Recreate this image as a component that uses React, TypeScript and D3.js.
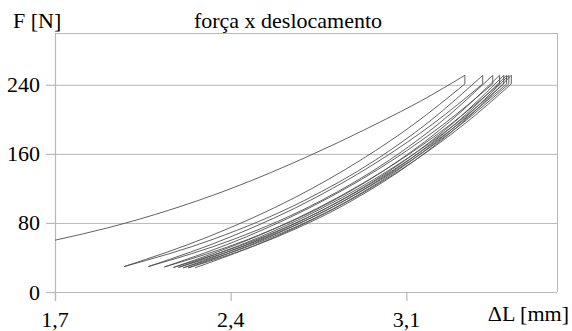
import React from "react";
import * as d3 from "d3";

const title = "força x deslocamento";
const yLabel = "F [N]";
const xLabel = "ΔL [mm]";

const xTicks = [1.7, 2.4, 3.1];
const yTicks = [0, 80, 160, 240];

// peak displacements and forces (top of each cycle) and the force after the short drop
const peakX = [3.333, 3.404, 3.444, 3.471, 3.488, 3.499, 3.508, 3.518];
const peakF = [251, 251, 251, 251, 251, 251, 251, 251];
const dropF = [241, 241, 241, 241, 241, 241, 241, 241];

// first loading curve
const initialLoad: [number, number][] = [
  [1.7, 60], [1.919, 75], [2.385, 118], [2.73, 160], [2.996, 197], [3.156, 221], [3.333, 251],
];

// reloading curves (minimum -> next peak)
const loadCurves: [number, number][][] = [
  [[1.976, 29.5], [2.333, 61.4], [2.69, 105.5], [2.976, 152.7], [3.19, 197.1], [3.404, 251]],
  [[2.072, 29.5], [2.415, 61.4], [2.758, 105.5], [3.032, 152.7], [3.238, 197.1], [3.444, 251]],
  [[2.136, 29], [2.47, 61.0], [2.804, 105.1], [3.071, 152.5], [3.271, 196.9], [3.471, 251]],
  [[2.172, 28.5], [2.501, 60.5], [2.83, 104.8], [3.093, 152.2], [3.291, 196.8], [3.488, 251]],
  [[2.192, 28.5], [2.519, 60.5], [2.846, 104.8], [3.107, 152.2], [3.303, 196.8], [3.499, 251]],
  [[2.211, 28], [2.535, 60.1], [2.86, 104.5], [3.119, 152.0], [3.314, 196.7], [3.508, 251]],
  [[2.231, 28], [2.553, 60.1], [2.875, 104.5], [3.132, 152.0], [3.325, 196.7], [3.518, 251]],
];

// unloading curves (listed from the minimum up to the dropped peak)
const unloadCurves: [number, number][][] = [
  [[1.976, 29.5], [2.315, 64.5], [2.655, 109.3], [2.926, 154.3], [3.13, 194.4], [3.333, 241]],
  [[2.072, 29.5], [2.405, 64.5], [2.738, 109.3], [3.004, 154.3], [3.204, 194.4], [3.404, 241]],
  [[2.136, 29], [2.463, 64.0], [2.79, 109.0], [3.052, 154.1], [3.248, 194.3], [3.444, 241]],
  [[2.172, 28.5], [2.497, 63.6], [2.822, 108.7], [3.081, 153.9], [3.276, 194.2], [3.471, 241]],
  [[2.192, 28.5], [2.516, 63.6], [2.84, 108.7], [3.099, 153.9], [3.294, 194.2], [3.488, 241]],
  [[2.211, 28], [2.533, 63.2], [2.855, 108.4], [3.113, 153.7], [3.306, 194.1], [3.499, 241]],
  [[2.231, 28], [2.55, 63.2], [2.87, 108.4], [3.125, 153.7], [3.317, 194.1], [3.508, 241]],
  [[2.258, 28], [2.573, 63.2], [2.888, 108.4], [3.14, 153.7], [3.329, 194.1], [3.518, 241]],
];

const W = 572;
const H = 331;
const left = 55;
const right = 557;
const top = 33;
const bottom = 292;

export default function App() {
  const x = d3.scaleLinear().domain([1.7, 3.7]).range([left, right]);
  const y = d3.scaleLinear().domain([0, 300]).range([bottom, top]);
  const line = d3
    .line<[number, number]>()
    .x((d) => x(d[0]))
    .y((d) => y(d[1]))
    .curve(d3.curveMonotoneX);

  const gridColor = "#b8b8b8";
  const curveColor = "#505050";
  const textStyle: React.CSSProperties = {
    fontFamily: '"Liberation Serif", "Times New Roman", Times, serif',
    fontSize: "22px",
  };

  return (
    <svg
      width={W}
      height={H}
      style={{ position: "absolute", left: 0, top: 0, background: "#fff" }}
    >
      <defs>
        <clipPath id="plot">
          <rect x={left} y={top} width={right - left} height={bottom - top} />
        </clipPath>
      </defs>
      {/* grid */}
      {yTicks.filter((t) => t > 0).map((t) => (
        <line key={"g" + t} x1={left} x2={right} y1={y(t) + 0.5} y2={y(t) + 0.5} stroke={gridColor} strokeWidth={1} />
      ))}
      {/* frame */}
      <line x1={left} x2={right} y1={top + 0.5} y2={top + 0.5} stroke={gridColor} strokeWidth={1} />
      <line x1={right + 0.5} x2={right + 0.5} y1={top} y2={bottom} stroke={gridColor} strokeWidth={1} />
      <line x1={left + 0.5} x2={left + 0.5} y1={top} y2={bottom + 9} stroke={gridColor} strokeWidth={1.2} />
      <line x1={left - 9} x2={right} y1={bottom + 0.5} y2={bottom + 0.5} stroke={gridColor} strokeWidth={1.2} />
      {/* ticks */}
      {yTicks.map((t) => (
        <g key={"y" + t}>
          <line x1={left - 9} x2={left} y1={y(t) + 0.5} y2={y(t) + 0.5} stroke={gridColor} strokeWidth={1.2} />
          <text x={40} y={y(t) + 7.5} textAnchor="end" style={textStyle} fill="#000">
            {t}
          </text>
        </g>
      ))}
      {xTicks.map((t) => (
        <g key={"x" + t}>
          <line x1={x(t) + 0.5} x2={x(t) + 0.5} y1={bottom} y2={bottom + 9} stroke={gridColor} strokeWidth={1.2} />
          <text x={x(t)} y={327} textAnchor="middle" style={textStyle} fill="#000">
            {String(t).replace(".", ",")}
          </text>
        </g>
      ))}
      {/* curves */}
      <g clipPath="url(#plot)" fill="none" stroke={curveColor} strokeWidth={0.9}>
        <path d={line(initialLoad) || ""} />
        {loadCurves.map((c, i) => (
          <path key={"l" + i} d={line(c) || ""} />
        ))}
        {unloadCurves.map((c, i) => (
          <path key={"u" + i} d={line(c) || ""} />
        ))}
        {peakX.map((p, i) => (
          <line key={"d" + i} x1={x(p)} x2={x(p)} y1={y(peakF[i])} y2={y(dropF[i])} />
        ))}
      </g>
      {/* labels */}
      <text x={13} y={28} style={textStyle} fill="#000">
        {yLabel}
      </text>
      <text x={288} y={28} textAnchor="middle" style={textStyle} fill="#000">
        {title}
      </text>
      <text x={569} y={321} textAnchor="end" style={textStyle} fill="#000">
        {xLabel}
      </text>
    </svg>
  );
}
